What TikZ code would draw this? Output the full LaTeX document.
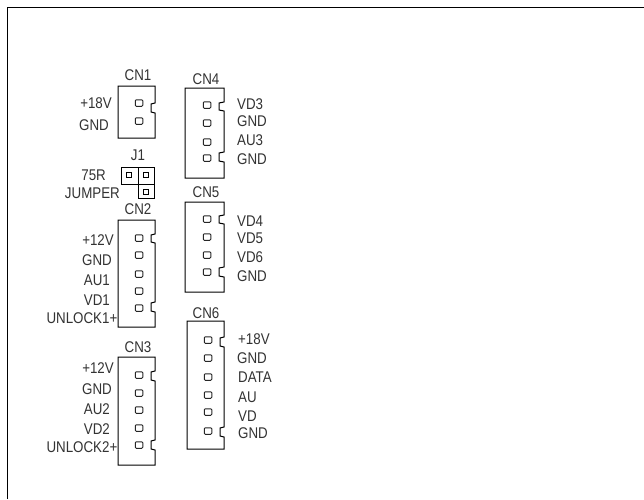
\documentclass[tikz,border=0pt]{standalone}
\usepackage{fontspec}
\setmainfont[FakeStretch=0.86]{Liberation Sans}
\tikzset{
  lab/.style={inner sep=0pt,font=\fontsize{15.5}{16}\selectfont,text=black!80},
  pin/.style={draw=black!85,line width=1pt,rounded corners=1pt,minimum width=7.5pt,minimum height=6.5pt,inner sep=0pt},
  shell/.style={draw=black,line width=1pt},
  jpin/.style={draw=black,line width=1.5pt,minimum size=5pt,inner sep=0pt}
}
\newcommand{\shellbody}[7]{% left right top bottom notchx n1a n1b
  \draw[shell] (#1,#3) -- (#2,#3) -- (#2,#6) -- (#5,#6+1) -- (#5,#7-1) -- (#2,#7) -- (#2,#4) -- (#1,#4) -- cycle;}
\newcommand{\shelltwo}[9]{% left right top bottom notchx a b c d
  \draw[shell] (#1,#3) -- (#2,#3) -- (#2,#6) -- (#5,#6+1) -- (#5,#7-1) -- (#2,#7) -- (#2,#8) -- (#5,#8+1) -- (#5,#9-1) -- (#2,#9) -- (#2,#4) -- (#1,#4) -- cycle;}
\begin{document}
\begin{tikzpicture}[x=1pt,y=-1pt]
\useasboundingbox (0,0) rectangle (644,499);
\fill[white] (0,0) rectangle (644,499);
\draw[line width=1pt] (7.5,499) -- (7.5,7) -- (644,7);
% CN1
\shellbody{118}{155}{86}{138}{151}{103}{113}
\node[lab] (cn1) at (138,75) {CN1};
\node[pin] (p11) at (139,103) {};
\node[pin] (p12) at (139,121) {};
\node[lab,anchor=east] (l11) at (112,103) {+18V};
\node[lab,anchor=east] (l12) at (109,125) {GND};
% J1
\draw[shell] (121,167) rectangle (154,184);
\draw[shell] (138.5,167) -- (138.5,198) -- (154,198) -- (154,184) -- (138.5,184);
\node[lab] (j1) at (138,155) {J1};
\node[jpin] (j11) at (129,175) {};
\node[jpin] (j12) at (146,175) {};
\node[jpin] (j13) at (146,192) {};
\node[lab,anchor=east] (l13) at (106,175) {75R};
\node[lab,anchor=east] (l14) at (120,193) {JUMPER};
% CN2
\shelltwo{118}{155}{220}{327}{151}{234}{243}{302}{312}
\node[lab] (cn2) at (138,209) {CN2};
\foreach \n/\y in {a/238,b/255,c/274,d/291,e/308} \node[pin] (p2\n) at (139,\y) {};
\node[lab,anchor=east] (l21) at (114,240) {+12V};
\node[lab,anchor=east] (l22) at (112,260) {GND};
\node[lab,anchor=east] (l23) at (110,280) {AU1};
\node[lab,anchor=east] (l24) at (110,300) {VD1};
\node[lab,anchor=east] (l25) at (117.5,318) {UNLOCK1+};
% CN3
\shelltwo{118}{155}{357}{465}{151}{371}{381}{440}{450}
\node[lab] (cn3) at (138,347) {CN3};
\foreach \n/\y in {a/375,b/393,c/410,d/428,e/445} \node[pin] (p3\n) at (139,\y) {};
\node[lab,anchor=east] (l31) at (114,368) {+12V};
\node[lab,anchor=east] (l32) at (112,389) {GND};
\node[lab,anchor=east] (l33) at (110,409) {AU2};
\node[lab,anchor=east] (l34) at (110,429) {VD2};
\node[lab,anchor=east] (l35) at (117.5,447) {UNLOCK2+};
% CN4
\shelltwo{185}{224}{88}{178}{219}{102}{111}{152}{162}
\node[lab] (cn4) at (206,79) {CN4};
\foreach \n/\y in {a/105,b/123,c/142,d/158} \node[pin] (p4\n) at (207,\y) {};
\node[lab,anchor=west] (l41) at (237,104) {VD3};
\node[lab,anchor=west] (l42) at (237,121) {GND};
\node[lab,anchor=west] (l43) at (237,140) {AU3};
\node[lab,anchor=west] (l44) at (237,159) {GND};
% CN5
\shelltwo{185}{224}{202}{292}{219}{215}{224}{267}{277}
\node[lab] (cn5) at (206,192) {CN5};
\foreach \n/\y in {a/219,b/237,c/255,d/272} \node[pin] (p5\n) at (207,\y) {};
\node[lab,anchor=west] (l51) at (237,221) {VD4};
\node[lab,anchor=west] (l52) at (237,238) {VD5};
\node[lab,anchor=west] (l53) at (237,257) {VD6};
\node[lab,anchor=west] (l54) at (237,276) {GND};
% CN6
\shelltwo{187}{224}{321}{449}{220}{337}{347}{427}{437}
\node[lab] (cn6) at (206,313) {CN6};
\foreach \n/\y in {a/340,b/358,c/377,d/395,e/412,f/431} \node[pin] (p6\n) at (208,\y) {};
\node[lab,anchor=west] (l61) at (238,339) {+18V};
\node[lab,anchor=west] (l62) at (237,358) {GND};
\node[lab,anchor=west] (l63) at (238,377) {DATA};
\node[lab,anchor=west] (l64) at (238,397) {AU};
\node[lab,anchor=west] (l65) at (238,416) {VD};
\node[lab,anchor=west] (l66) at (238,433) {GND};
\end{tikzpicture}
\end{document}
